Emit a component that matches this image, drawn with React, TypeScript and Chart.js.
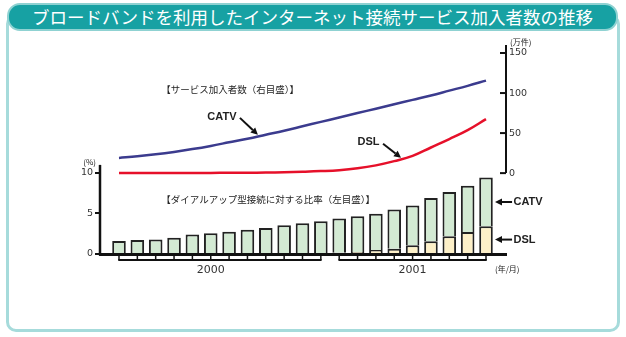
import React, { useEffect, useRef } from "react";
import { Chart, registerables } from "chart.js";

Chart.register(...registerables);

const TITLE = "ブロードバンドを利用したインターネット接続サービス加入者数の推移";

// months Jan 2000 .. Sep 2001
const months = [
  "2000/1", "2000/2", "2000/3", "2000/4", "2000/5", "2000/6", "2000/7",
  "2000/8", "2000/9", "2000/10", "2000/11", "2000/12",
  "2001/1", "2001/2", "2001/3", "2001/4", "2001/5", "2001/6", "2001/7",
  "2001/8", "2001/9",
];
const yearLabels = ["2000", "2001"];
const yearTickAt = [5, 16];
const yearGroups = [
  [0, 11],
  [12, 20],
];

// ratio to dial-up connections (%) — left axis
const dslRatio = [
  null, null, null, null, null, null, null, null, null, null, null, null,
  0.15, 0.25, 0.5, 0.66, 1.07, 1.57, 2.18, 2.72, 3.42,
];
const catvRatio = [
  1.6, 1.73, 1.78, 2.0, 2.4, 2.55, 2.76, 3.0, 3.2, 3.54, 3.8, 4.04,
  4.22, 4.4, 4.48, 4.84, 4.93, 5.33, 5.47, 5.72, 6.01,
];

// subscribers (10k) — right axis
const catvSubs = [
  19, 21, 23.5, 26.5, 30, 34, 38.5, 43, 48, 53, 58.5, 64,
  69.5, 75, 80.5, 86, 91.5, 97, 103, 109, 115.5,
];
const dslSubs = [
  0.3, 0.3, 0.3, 0.3, 0.3, 0.3, 0.4, 0.5, 0.7, 1.1, 1.7, 2.5,
  3.7, 6, 9.7, 15, 21.5, 32, 42.5, 53.7, 67.5,
];

const ratioTicks = [0, 5, 10];
const subsTicks = [0, 50, 100, 150];

const NAVY = "#3b3b8e";
const RED = "#e6102a";
const GREEN_FILL = "#d3ead3";
const CREAM_FILL = "#fdf0c8";
const EDGE = "#222222";
const INK = "#222222";

const JP = "'Noto Sans CJK JP', sans-serif";

type Note = { text: string; xi: number; v: number; axis: "y" | "y2"; align: CanvasTextAlign; font: string };
const notes: Note[] = [
  { text: "【サービス加入者数（右目盛）】", xi: 2.3, v: 105, axis: "y2", align: "left", font: `9.5px ${JP}` },
  { text: "【ダイアルアップ型接続に対する比率（左目盛）】", xi: 2.3, v: 6.75, axis: "y", align: "left", font: `9.5px ${JP}` },
  { text: "CATV", xi: 5.61, v: 70.4, axis: "y2", align: "center", font: "bold 11px 'Liberation Sans', Arial, sans-serif" },
  { text: "DSL", xi: 13.6, v: 39, axis: "y2", align: "center", font: "bold 11px 'Liberation Sans', Arial, sans-serif" },
  { text: "CATV", xi: 21.5, v: 6.42, axis: "y", align: "left", font: "bold 11px 'Liberation Sans', Arial, sans-serif" },
  { text: "DSL", xi: 21.5, v: 1.78, axis: "y", align: "left", font: "bold 11px 'Liberation Sans', Arial, sans-serif" },
];
type Arrow = { from: [number, number]; to: [number, number]; axis: "y" | "y2" };
const arrows: Arrow[] = [
  { from: [6.59, 69], to: [7.57, 47.9], axis: "y2" },
  { from: [14.39, 36.6], to: [15.37, 19.1], axis: "y2" },
  { from: [21.42, 6.42], to: [20.49, 6.42], axis: "y" },
  { from: [21.42, 1.78], to: [20.49, 1.78], axis: "y" },
];

function drawArrow(ctx: CanvasRenderingContext2D, x1: number, y1: number, x2: number, y2: number) {
  const ang = Math.atan2(y2 - y1, x2 - x1);
  const head = 7;
  const w = 3.5;
  const bx = x2 - head * Math.cos(ang);
  const by = y2 - head * Math.sin(ang);
  ctx.beginPath();
  ctx.moveTo(x1, y1);
  ctx.lineTo(bx, by);
  ctx.stroke();
  ctx.beginPath();
  ctx.moveTo(x2, y2);
  ctx.lineTo(bx + w * Math.sin(ang), by - w * Math.cos(ang));
  ctx.lineTo(bx - w * Math.sin(ang), by + w * Math.cos(ang));
  ctx.closePath();
  ctx.fill();
}

const overlayPlugin = {
  id: "overlay",
  afterDatasetsDraw(chart: any) {
    const { ctx, chartArea, scales } = chart;
    const x = scales.x;
    const y = scales.y;
    const y2 = scales.y2;
    ctx.save();
    ctx.strokeStyle = "#111";
    ctx.fillStyle = "#111";

    // left axis line
    ctx.lineWidth = 2.5;
    ctx.beginPath();
    ctx.moveTo(chartArea.left, y.getPixelForValue(0) + 1.5);
    ctx.lineTo(chartArea.left, y.getPixelForValue(11));
    ctx.stroke();

    // right axis line + inward ticks
    ctx.lineWidth = 2;
    ctx.beginPath();
    ctx.moveTo(chartArea.right, y2.getPixelForValue(0));
    ctx.lineTo(chartArea.right, chartArea.top);
    ctx.stroke();
    subsTicks.forEach((v) => {
      const py = y2.getPixelForValue(v);
      ctx.beginPath();
      ctx.moveTo(chartArea.right - 6, py);
      ctx.lineTo(chartArea.right, py);
      ctx.stroke();
    });

    // month brackets under the axis
    const yb = chartArea.bottom;
    const yl = yb + 6;
    yearGroups.forEach(([a, b]) => {
      ctx.lineWidth = 1.5;
      for (let i = a; i <= b; i++) {
        const px = x.getPixelForValue(i);
        ctx.beginPath();
        ctx.moveTo(px, yb);
        ctx.lineTo(px, yl);
        ctx.stroke();
      }
      ctx.lineWidth = 2;
      ctx.beginPath();
      ctx.moveTo(x.getPixelForValue(a) - 0.75, yl);
      ctx.lineTo(x.getPixelForValue(b) + 0.75, yl);
      ctx.stroke();
    });

    // unit labels
    ctx.fillStyle = INK;
    ctx.font = `8px ${JP}`;
    ctx.textBaseline = "middle";
    ctx.textAlign = "right";
    ctx.fillText("(%)", chartArea.left - 4, y.getPixelForValue(11.4));
    ctx.textAlign = "left";
    ctx.fillText("(万件)", chartArea.right + 4, chartArea.top - 3);
    ctx.fillText("(年/月)", x.getPixelForValue(20.49), yb + 15);

    // notes
    notes.forEach((n) => {
      const sc = n.axis === "y" ? y : y2;
      ctx.font = n.font;
      ctx.textAlign = n.align;
      ctx.textBaseline = "middle";
      ctx.fillText(n.text, x.getPixelForValue(n.xi), sc.getPixelForValue(n.v));
    });

    // arrows
    ctx.lineWidth = 2;
    ctx.fillStyle = "#111";
    arrows.forEach((a) => {
      const sc = a.axis === "y" ? y : y2;
      drawArrow(
        ctx,
        x.getPixelForValue(a.from[0]),
        sc.getPixelForValue(a.from[1]),
        x.getPixelForValue(a.to[0]),
        sc.getPixelForValue(a.to[1])
      );
    });
    ctx.restore();
  },
};

export default function App() {
  const ref = useRef<HTMLCanvasElement>(null);

  useEffect(() => {
    const canvas = ref.current;
    if (!canvas) return;
    const chart = new Chart(canvas, {
      type: "bar",
      data: {
        datasets: [
          {
            type: "bar",
            label: "DSL（比率）",
            data: months.map((_, i) => ({ x: i, y: dslRatio[i] })),
            yAxisID: "y",
            stack: "ratio",
            backgroundColor: CREAM_FILL,
            borderColor: EDGE,
            borderWidth: 2,
            categoryPercentage: 1,
            barPercentage: 0.74,
          },
          {
            type: "bar",
            label: "CATV（比率）",
            data: months.map((_, i) => ({ x: i, y: catvRatio[i] })),
            yAxisID: "y",
            stack: "ratio",
            backgroundColor: GREEN_FILL,
            borderColor: EDGE,
            borderWidth: 2,
            categoryPercentage: 1,
            barPercentage: 0.74,
          },
          {
            type: "line",
            label: "CATV（加入者数）",
            data: months.map((_, i) => ({ x: i, y: catvSubs[i] })),
            yAxisID: "y2",
            borderColor: NAVY,
            borderWidth: 2.5,
            pointRadius: 0,
            tension: 0.4,
            fill: false,
          },
          {
            type: "line",
            label: "DSL（加入者数）",
            data: months.map((_, i) => ({ x: i, y: dslSubs[i] })),
            yAxisID: "y2",
            borderColor: RED,
            borderWidth: 2.5,
            pointRadius: 0,
            tension: 0.4,
            fill: false,
          },
        ] as any,
      },
      options: {
        responsive: false,
        animation: false,
        layout: { padding: { left: 0, right: 0, top: 45, bottom: 0 } },
        plugins: { legend: { display: false }, tooltip: { enabled: false } },
        scales: {
          x: {
            type: "linear",
            position: "bottom",
            min: -1.035,
            max: 21.09,
            offset: false,
            bounds: "data",
            z: 1,
            grid: { display: false, drawTicks: false },
            border: { display: true, width: 3, color: "#111" },
            ticks: {
              autoSkip: false,
              maxRotation: 0,
              padding: 10,
              color: "#333",
              font: { family: "'DejaVu Sans', sans-serif", size: 11 },
              callback: (_v: any, idx: number) => yearLabels[idx] ?? "",
            },
            afterBuildTicks: (s: any) => {
              s.ticks = yearTickAt.map((v) => ({ value: v }));
            },
            afterFit: (s: any) => {
              s.height = 83;
            },
          },
          y: {
            type: "linear",
            position: "left",
            min: 0,
            max: 25.8,
            bounds: "data",
            stacked: true,
            grid: {
              display: true,
              drawOnChartArea: false,
              drawTicks: true,
              tickLength: 5,
              color: "#111",
              lineWidth: 2,
            },
            border: { display: false },
            ticks: {
              padding: 2,
              color: "#333",
              font: { family: "'DejaVu Sans', sans-serif", size: 9.5 },
            },
            afterBuildTicks: (s: any) => {
              s.ticks = ratioTicks.map((v) => ({ value: v }));
            },
            afterFit: (s: any) => {
              s.width = 100;
            },
          },
          y2: {
            type: "linear",
            position: "right",
            min: -101,
            max: 160,
            bounds: "data",
            stacked: false,
            grid: { display: false, drawTicks: false },
            border: { display: false },
            ticks: {
              padding: 3,
              color: "#333",
              font: { family: "'DejaVu Sans', sans-serif", size: 9.5 },
            },
            afterBuildTicks: (s: any) => {
              s.ticks = subsTicks.map((v) => ({ value: v }));
            },
            afterFit: (s: any) => {
              s.width = 120;
            },
          },
        } as any,
      },
      plugins: [overlayPlugin],
    });
    return () => chart.destroy();
  }, []);

  return (
    <div
      style={{
        position: "fixed",
        left: 0,
        top: 0,
        width: 626,
        height: 337,
        background: "#ffffff",
        overflow: "hidden",
      }}
    >
      <div
        style={{
          position: "absolute",
          left: 6,
          top: 14,
          width: 614,
          height: 318,
          boxSizing: "border-box",
          border: "3px solid #a6dbdb",
          borderRadius: 10,
        }}
      />
      <div
        style={{
          position: "absolute",
          left: 7,
          top: 3,
          width: 611,
          height: 28,
          boxSizing: "border-box",
          background: "#17a1a3",
          border: "2px solid #8fd2d2",
          borderRadius: 13,
          color: "#ffffff",
          fontFamily: JP,
          fontSize: 17.5,
          lineHeight: "24px",
          textAlign: "center",
          whiteSpace: "nowrap",
        }}
      >
        {TITLE}
      </div>
      <canvas
        ref={ref}
        width={626}
        height={337}
        style={{ position: "absolute", left: 0, top: 0, width: 626, height: 337 }}
      />
    </div>
  );
}
